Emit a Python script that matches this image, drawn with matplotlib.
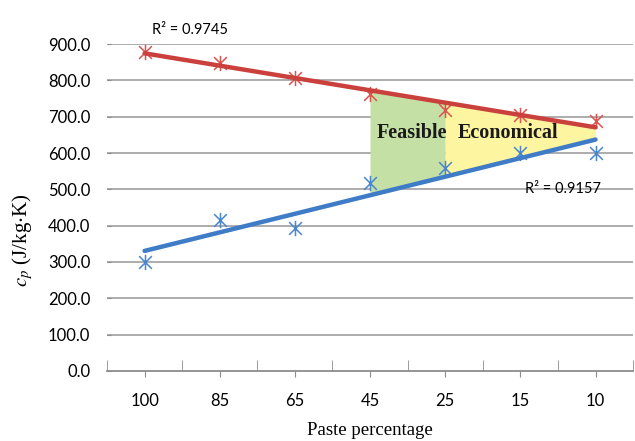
import numpy as np
import matplotlib.pyplot as plt
from matplotlib.path import Path

plt.rcParams['mathtext.fontset'] = 'stix'

# data
paste = ['100', '85', '65', '45', '25', '15', '10']
cp_red = [879, 849, 808, 762, 718, 705, 688]
cp_blue = [301, 416, 393, 518, 558, 599, 601]
r2_red = 'R² = 0.9745'
r2_blue = 'R² = 0.9157'
yticks = [0, 100, 200, 300, 400, 500, 600, 700, 800, 900]

x = np.arange(len(paste))

# linear trendlines (Excel style, x = 1..n)
p_red = np.polyfit(x + 1, cp_red, 1)
p_blue = np.polyfit(x + 1, cp_blue, 1)
tr_red = np.polyval(p_red, x + 1)
tr_blue = np.polyval(p_blue, x + 1)

# Excel "star" marker: an X with a vertical bar
star = Path([(-1, -1), (1, 1), (-1, 1), (1, -1), (0, -1.2), (0, 1.2)],
            [Path.MOVETO, Path.LINETO, Path.MOVETO, Path.LINETO, Path.MOVETO, Path.LINETO])

fig = plt.figure(figsize=(6.35, 4.41), dpi=100)
ax = fig.add_axes([0.1685, 0.159, 0.8285, 0.741])

# grid
for v in yticks[1:]:
    ax.axhline(v, color='#a6a6a6', lw=1.3, zorder=0)

# shaded regions between trendlines
ax.fill_between(x[3:5], tr_blue[3:5], tr_red[3:5], color='#c5e0a5', lw=0, zorder=1)
ax.fill_between(x[4:7], tr_blue[4:7], tr_red[4:7], color='#fdf59f', lw=0, zorder=1)

ax.plot(x, cp_red, ls='none', marker=star, ms=11, mew=1.1, color='#d9534f', zorder=3)
ax.plot(x, cp_blue, ls='none', marker=star, ms=11, mew=1.1, color='#4a86d0', zorder=3)
ax.plot(x, tr_red, color='#c9403c', lw=3.2, solid_capstyle='round', zorder=4)
ax.plot(x, tr_blue, color='#3f7cc8', lw=3.2, solid_capstyle='round', zorder=4)

ax.text(0.1, 938, r2_red, fontsize=10.5, family='Lato', ha='left', va='center')
ax.text(6.07, 500, r2_blue, fontsize=10.5, family='Lato', ha='right', va='center')
ax.text(3.56, 656, 'Feasible', fontsize=14.5, family='Liberation Serif',
        weight='bold', ha='center', va='center', color='#1a1a1a', zorder=5)
ax.text(4.84, 656, 'Economical', fontsize=14.5, family='Liberation Serif',
        weight='bold', ha='center', va='center', color='#1a1a1a', zorder=5)

ax.set_xlim(-0.5, 6.5)
ax.set_ylim(0, 900)
ax.set_yticks(yticks)
ax.set_yticklabels(['%.1f' % v for v in yticks], family='Lato', fontsize=12)
ax.set_xticks(x)
ax.set_xticklabels(paste, family='Lato', fontsize=12)
ax.set_xticks(np.arange(-0.5, 7, 1), minor=True)
ax.tick_params(axis='x', which='major', length=4, color='#8c8c8c', pad=12)
ax.tick_params(axis='x', which='minor', length=8, direction='in', color='#8c8c8c')
ax.tick_params(axis='y', length=3, direction='in', color='#8c8c8c', pad=12)

for s in ['top', 'right', 'left']:
    ax.spines[s].set_visible(False)
ax.spines['bottom'].set_color('#8c8c8c')
ax.spines['bottom'].set_linewidth(1.3)

ax.set_xlabel('Paste percentage', family='Liberation Serif', fontsize=13.5, labelpad=9)
ax.set_ylabel(r'$c_p$ (J/kg$\cdot$K)', family='Liberation Serif', fontsize=15)
ax.yaxis.set_label_coords(-0.137, 0.40)

fig.savefig('out.png', dpi=100)
